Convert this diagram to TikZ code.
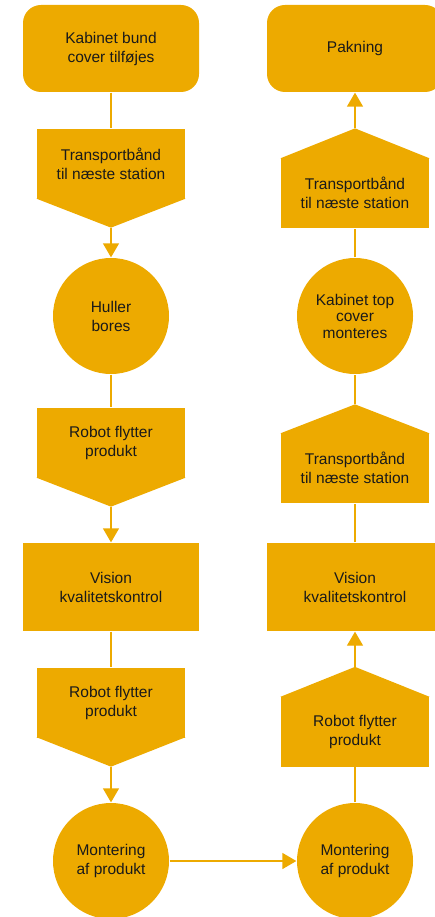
\documentclass[tikz,border=0pt]{standalone}
\usepackage{fontspec}
\setmainfont{Liberation Sans}
\usetikzlibrary{arrows.meta}
\definecolor{gold}{HTML}{EDAA00}
\definecolor{ink}{HTML}{1A1A1A}

\begin{document}
\begin{tikzpicture}[x=1pt, y=-1pt, line width=1.3pt,
  box/.style={fill=gold, draw=none, text=ink, align=center, inner sep=0pt,
    font=\fontsize{15.5}{19}\selectfont},
  endbox/.style={box, minimum width=176pt, minimum height=87pt, rounded corners=18pt},
  visbox/.style={box, minimum width=176pt, minimum height=88pt},
  penta/.style={box, minimum width=148pt, minimum height=70pt},
  disc/.style={box, circle, minimum size=116pt},
  link/.style={draw=gold, line width=1.3pt},
  flow/.style={link, -{Triangle[width=16pt,length=14pt]}}]
  \useasboundingbox (0,0) rectangle (434,917);
  % left column, top to bottom
  \node[endbox] (kbund) at (111,48.5) {Kabinet bund\\cover tilføjes};
  \node[penta] (tb1) at (111,164) {Transportbånd\\til næste station};
  \coordinate (tb1tip) at ([yshift=-28pt]tb1.south);
  \fill[gold] ([yshift=1pt]tb1.south west) -- ([yshift=1pt]tb1.south east) -- (tb1tip) -- cycle;
  \node[disc] (huller) at (111,316) {Huller\\bores};
  \node[penta] (rob1) at (111,443) {Robot flytter\\produkt};
  \coordinate (rob1tip) at ([yshift=-28pt]rob1.south);
  \fill[gold] ([yshift=1pt]rob1.south west) -- ([yshift=1pt]rob1.south east) -- (rob1tip) -- cycle;
  \node[visbox] (vis1) at (111,587) {Vision\\kvalitetskontrol};
  \node[penta] (rob2) at (111,702.5) {Robot flytter\\produkt};
  \coordinate (rob2tip) at ([yshift=-28.5pt]rob2.south);
  \fill[gold] ([yshift=1pt]rob2.south west) -- ([yshift=1pt]rob2.south east) -- (rob2tip) -- cycle;
  \node[disc] (mont1) at (111,861) {Montering\\af produkt};
  % right column, bottom to top
  \node[disc] (mont2) at (355,861) {Montering\\af produkt};
  \node[penta] (rob3) at (355,731.5) {Robot flytter\\produkt};
  \coordinate (rob3tip) at ([yshift=29pt]rob3.north);
  \fill[gold] ([yshift=-1pt]rob3.north west) -- ([yshift=-1pt]rob3.north east) -- (rob3tip) -- cycle;
  \node[visbox] (vis2) at (355,587) {Vision\\kvalitetskontrol};
  \node[penta] (tb3) at (355,468) {Transportbånd\\til næste station};
  \coordinate (tb3tip) at ([yshift=28pt]tb3.north);
  \fill[gold] ([yshift=-1pt]tb3.north west) -- ([yshift=-1pt]tb3.north east) -- (tb3tip) -- cycle;
  \node[disc] (kabtop) at (355,316) {Kabinet top\\[-2.5pt]cover\\[-2.5pt]monteres};
  \node[penta] (tb2) at (355,193) {Transportbånd\\til næste station};
  \coordinate (tb2tip) at ([yshift=29pt]tb2.north);
  \fill[gold] ([yshift=-1pt]tb2.north west) -- ([yshift=-1pt]tb2.north east) -- (tb2tip) -- cycle;
  \node[endbox] (pak) at (355,48.5) {Pakning};
  % connectors
  \draw[link] (kbund) -- (tb1);
  \draw[flow] (tb1tip) -- (huller);
  \draw[link] (huller) -- (rob1);
  \draw[flow] (rob1tip) -- (vis1);
  \draw[link] (vis1) -- (rob2);
  \draw[flow] (rob2tip) -- (mont1);
  \draw[flow] (mont1) -- (mont2);
  \draw[link] (mont2) -- (rob3);
  \draw[flow] (rob3tip) -- (vis2);
  \draw[link] (vis2) -- (tb3);
  \draw[link] (tb3tip) -- (kabtop);
  \draw[link] (kabtop) -- (tb2);
  \draw[flow] (tb2tip) -- (pak);
\end{tikzpicture}
\end{document}
